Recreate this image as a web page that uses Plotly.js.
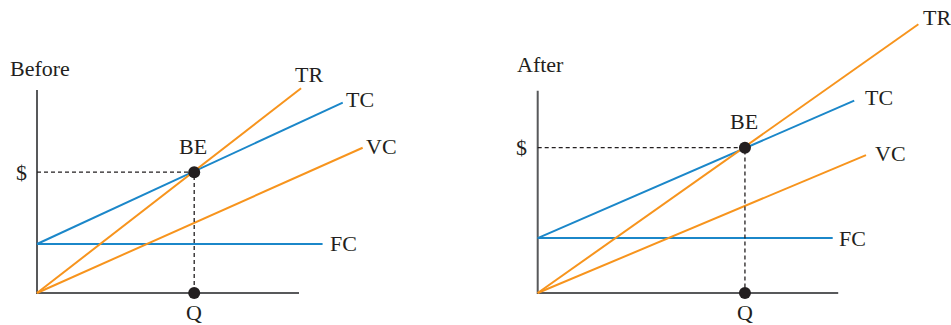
<!DOCTYPE html>
<html><head><meta charset="utf-8">
<script src="https://cdn.plot.ly/plotly-3.0.1.min.js"></script>
<style>html,body{margin:0;padding:0;background:#fff}#chart{width:951px;height:325px}</style>
</head><body><div id="chart"></div>
<script>
// ---- data (units of quantity Q on x, dollars on y) ----
const panels = ["Before", "After"];
const axisXEnd = [10.0, 11.47];
const axisYTop = [8.29, 8.26];
const fcLevel = [2.0, 2.24];
const fcEndQ = [10.9, 11.26];
const tcEndQ = [11.67, 12.08];
const tcEndY = [7.77, 7.85];
const trEndQ = [10.08, 14.53];
const trEndY = [8.36, 10.97];
const vcEndQ = [12.43, 12.53];
const vcEndY = [5.93, 5.63];
const beQ = [6.0, 7.91];
const beY = [4.93, 5.93];
const lineLabels = ["TR", "TC", "VC", "FC"];
const pointLabels = ["BE", "$", "Q"];

// label anchor positions (data units) per panel, order TR, TC, VC, FC
const lineLabelQ = [[10.38, 12.31, 13.16, 11.68], [15.23, 13.02, 13.45, 12.03]];
const lineLabelY = [[8.9, 7.88, 6.0, 2.03], [11.25, 7.99, 5.70, 2.24]];

const ORANGE = "#f7941d", BLUE = "#1b87c9", GRAY = "#58595b", DARK = "#231f20";
const FONT = {family: "Liberation Serif, Times New Roman, serif", size: 22, color: DARK};

const traces = [];
const annotations = [];
panels.forEach((name, i) => {
  const xa = i === 0 ? "x" : "x2", ya = i === 0 ? "y" : "y2";
  const add = (x, y, color, width, dash) => traces.push({
    type: "scatter", mode: "lines", x, y, xaxis: xa, yaxis: ya,
    line: {color, width, dash: dash || "solid"}, hoverinfo: "skip", showlegend: false
  });
  // axes
  add([0, 0, axisXEnd[i]], [axisYTop[i], 0, 0], GRAY, 2);
  // FC, TC, VC, TR
  add([0, fcEndQ[i]], [fcLevel[i], fcLevel[i]], BLUE, 2);
  add([0, tcEndQ[i]], [fcLevel[i], tcEndY[i]], BLUE, 2);
  add([0, vcEndQ[i]], [0, vcEndY[i]], ORANGE, 2);
  add([0, trEndQ[i]], [0, trEndY[i]], ORANGE, 2);
  // dashed guides
  add([0, beQ[i], beQ[i]], [beY[i], beY[i], 0], DARK, 1.3, "4px,3px");
  // BE point and Q point
  traces.push({
    type: "scatter", mode: "markers", x: [beQ[i], beQ[i]], y: [beY[i], 0],
    xaxis: xa, yaxis: ya, marker: {color: DARK, size: 12}, hoverinfo: "skip", showlegend: false
  });
  // panel title
  annotations.push({xref: xa, yref: ya, x: i === 0 ? -1.107 : -0.866, y: i === 0 ? 9.18 : 9.31,
    text: name, showarrow: false, xanchor: "left", yanchor: "middle", font: FONT});
  lineLabels.forEach((lab, k) => annotations.push({
    xref: xa, yref: ya, x: lineLabelQ[i][k], y: lineLabelY[i][k], text: lab,
    showarrow: false, xanchor: "center", yanchor: "middle", font: FONT
  }));
  annotations.push({xref: xa, yref: ya, x: beQ[i] - 0.05, y: beY[i] + 1.05, text: pointLabels[0],
    showarrow: false, xanchor: "center", yanchor: "middle", font: FONT});
  annotations.push({xref: xa, yref: ya, x: -0.61, y: beY[i], text: pointLabels[1],
    showarrow: false, xanchor: "center", yanchor: "middle", font: FONT});
  annotations.push({xref: xa, yref: ya, x: beQ[i], y: -0.8, text: pointLabels[2],
    showarrow: false, xanchor: "center", yanchor: "middle", font: FONT});
});

const pxX = 26.2, pxY = 24.5;
const hidden = {visible: false, showgrid: false, zeroline: false, fixedrange: true};
const layout = {
  width: 951, height: 325, margin: {l: 0, r: 0, t: 0, b: 0},
  paper_bgcolor: "#fff", plot_bgcolor: "#fff", showlegend: false,
  xaxis: Object.assign({domain: [0, 0.5], range: [-37 / pxX, 438.5 / pxX]}, hidden),
  yaxis: Object.assign({range: [-32 / pxY, 293 / pxY]}, hidden),
  xaxis2: Object.assign({domain: [0.5, 1], range: [-62.2 / pxX, 413.3 / pxX], anchor: "y2"}, hidden),
  yaxis2: Object.assign({range: [-32 / pxY, 293 / pxY], anchor: "x2"}, hidden),
  annotations
};
Plotly.newPlot("chart", traces, layout, {displayModeBar: false, staticPlot: true});
</script>
</body></html>
